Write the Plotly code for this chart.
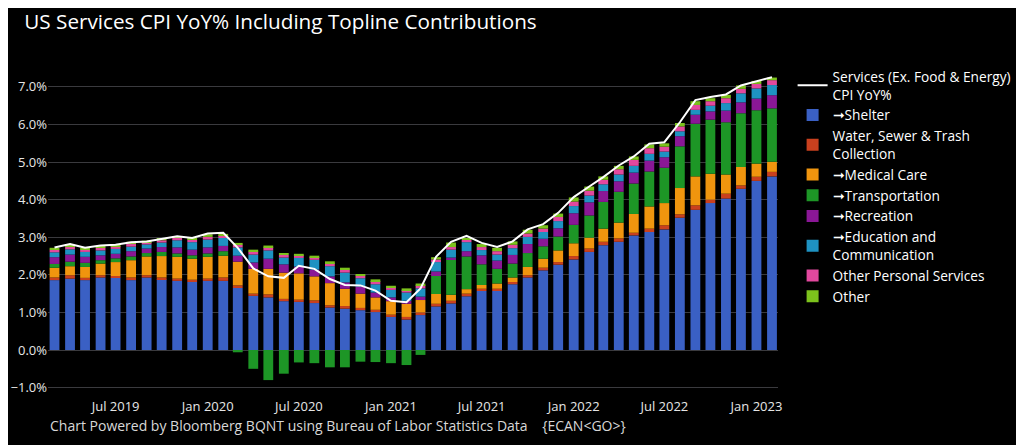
import pandas as pd
import plotly.graph_objects as go

dates = pd.date_range("2019-03-01", periods=48, freq="MS")

shelter = [1.86, 1.90, 1.86, 1.93, 1.92, 1.86, 1.93, 1.88, 1.84, 1.81, 1.84, 1.84,
           1.65, 1.44, 1.40, 1.30, 1.28, 1.25, 1.13, 1.10, 1.06, 1.01, 0.88, 0.81,
           0.93, 1.16, 1.24, 1.43, 1.57, 1.57, 1.75, 1.93, 2.12, 2.27, 2.41, 2.61,
           2.79, 2.88, 3.05, 3.14, 3.21, 3.52, 3.73, 3.91, 4.03, 4.29, 4.50, 4.62]
water = [0.07, 0.09, 0.06, 0.06, 0.05, 0.07, 0.06, 0.05, 0.06, 0.06, 0.06, 0.09,
         0.07, 0.06, 0.08, 0.06, 0.06, 0.07, 0.06, 0.07, 0.06, 0.06, 0.06, 0.07,
         0.07, 0.07, 0.07, 0.07, 0.06, 0.06, 0.06, 0.06, 0.07, 0.07, 0.09, 0.09,
         0.09, 0.09, 0.07, 0.09, 0.11, 0.09, 0.12, 0.09, 0.13, 0.09, 0.11, 0.12]
medical = [0.26, 0.24, 0.29, 0.31, 0.37, 0.46, 0.50, 0.57, 0.58, 0.56, 0.58, 0.58,
           0.63, 0.66, 0.68, 0.70, 0.70, 0.64, 0.59, 0.46, 0.38, 0.33, 0.36, 0.35,
           0.33, 0.26, 0.16, 0.12, 0.10, 0.14, 0.12, 0.22, 0.24, 0.31, 0.34, 0.29,
           0.35, 0.42, 0.50, 0.59, 0.59, 0.70, 0.77, 0.69, 0.51, 0.49, 0.35, 0.27]
transport = [0.10, 0.12, 0.11, 0.09, 0.10, 0.10, 0.09, 0.11, 0.09, 0.09, 0.09, 0.12,
             -0.06, -0.50, -0.80, -0.63, -0.33, -0.35, -0.46, -0.46, -0.31, -0.32, -0.35, -0.40,
             -0.13, 0.48, 0.94, 0.87, 0.55, 0.39, 0.37, 0.37, 0.33, 0.37, 0.49, 0.59,
             0.71, 0.82, 0.81, 0.93, 0.94, 1.11, 1.40, 1.44, 1.39, 1.43, 1.42, 1.42]
recreation = [0.18, 0.19, 0.16, 0.13, 0.12, 0.14, 0.12, 0.13, 0.16, 0.15, 0.16, 0.14,
              0.16, 0.17, 0.27, 0.22, 0.18, 0.18, 0.18, 0.17, 0.19, 0.13, 0.10, 0.08,
              0.09, 0.12, 0.05, 0.14, 0.24, 0.22, 0.23, 0.24, 0.20, 0.22, 0.31, 0.35,
              0.29, 0.28, 0.29, 0.29, 0.28, 0.27, 0.24, 0.22, 0.31, 0.29, 0.31, 0.35]
education = [0.13, 0.14, 0.13, 0.13, 0.13, 0.12, 0.11, 0.12, 0.19, 0.20, 0.21, 0.21,
             0.22, 0.21, 0.22, 0.18, 0.23, 0.26, 0.27, 0.26, 0.22, 0.22, 0.20, 0.22,
             0.22, 0.25, 0.21, 0.24, 0.14, 0.16, 0.18, 0.19, 0.18, 0.19, 0.19, 0.18,
             0.18, 0.18, 0.18, 0.18, 0.15, 0.13, 0.13, 0.15, 0.20, 0.24, 0.27, 0.27]
other_personal = [0.07, 0.07, 0.06, 0.07, 0.07, 0.07, 0.06, 0.06, 0.07, 0.07, 0.07, 0.07,
                  0.07, 0.08, 0.08, 0.07, 0.07, 0.07, 0.08, 0.08, 0.07, 0.08, 0.07, 0.06,
                  0.08, 0.07, 0.07, 0.06, 0.08, 0.09, 0.09, 0.09, 0.09, 0.11, 0.12, 0.13,
                  0.12, 0.14, 0.16, 0.15, 0.13, 0.13, 0.13, 0.12, 0.13, 0.12, 0.12, 0.13]
other = [0.05, 0.04, 0.05, 0.05, 0.04, 0.06, 0.04, 0.06, 0.04, 0.04, 0.07, 0.04,
         0.05, 0.05, 0.05, 0.04, 0.04, 0.04, 0.05, 0.05, 0.04, 0.05, 0.04, 0.05,
         0.05, 0.06, 0.12, 0.05, 0.08, 0.09, 0.09, 0.10, 0.09, 0.09, 0.11, 0.11,
         0.09, 0.09, 0.09, 0.10, 0.09, 0.09, 0.10, 0.08, 0.09, 0.09, 0.08, 0.07]
services_yoy = [2.73, 2.82, 2.72, 2.78, 2.80, 2.87, 2.89, 2.96, 3.03, 2.98, 3.10, 3.12,
                2.72, 2.17, 1.96, 1.92, 2.24, 2.16, 1.89, 1.73, 1.72, 1.58, 1.31, 1.27,
                1.64, 2.48, 2.88, 3.04, 2.85, 2.74, 2.89, 3.21, 3.35, 3.65, 4.07, 4.35,
                4.60, 4.91, 5.15, 5.49, 5.53, 6.06, 6.65, 6.73, 6.80, 7.04, 7.15, 7.26]

components = [
    ("\u279eShelter", shelter, "#3a60c4"),
    ("Water, Sewer & Trash<br>Collection", water, "#c9401e"),
    ("\u279eMedical Care", medical, "#f0950e"),
    ("\u279eTransportation", transport, "#1d9626"),
    ("\u279eRecreation", recreation, "#8a1796"),
    ("\u279eEducation and<br>Communication", education, "#1e92c2"),
    ("Other Personal Services", other_personal, "#e2489e"),
    ("Other", other, "#7cc21c"),
]

fig = go.Figure()
fig.add_trace(go.Scatter(x=dates, y=services_yoy, mode="lines",
                         name="Services (Ex. Food & Energy)<br>CPI YoY%",
                         line=dict(color="white", width=2)))
for name, vals, color in components:
    fig.add_trace(go.Bar(x=dates, y=vals, name=name, marker=dict(color=color, line=dict(width=0))))

fig.update_layout(
    width=1016, height=437,
    barmode="relative", bargap=0.3,
    paper_bgcolor="black", plot_bgcolor="black",
    font=dict(family="Open Sans", color="#e6e6e6", size=13),
    margin=dict(l=40, r=246, t=53, b=48, autoexpand=False),
    title=dict(text="US Services CPI YoY% Including Topline Contributions",
               x=0.016, xanchor="left", y=0.968, yanchor="middle",
               font=dict(size=20.7, color="white", family="Open Sans")),
    legend=dict(x=1.02, y=1.0, xanchor="left", yanchor="top", traceorder="normal",
                font=dict(size=13.7, color="white"), bgcolor="rgba(0,0,0,0)",
                tracegroupgap=0),
    showlegend=True,
)
fig.update_xaxes(
    type="date", range=["2019-02-16", "2023-02-13"],
    dtick="M6", tick0="2019-07-01", tickformat="%b %Y",
    showgrid=False, zeroline=False, showline=False, ticks="", automargin=False,
    tickfont=dict(size=13, color="#e6e6e6"),
)
fig.update_yaxes(
    range=[-1.25, 7.69], dtick=1, tick0=0, tickformat=".1f", ticksuffix="%",
    showgrid=True, gridcolor="#3a3a3e", gridwidth=1, automargin=False,
    zeroline=True, zerolinecolor="#3a3a3e", zerolinewidth=1,
    tickfont=dict(size=13, color="#e6e6e6"),
)
fig.add_annotation(
    text="Chart Powered by Bloomberg BQNT using Bureau of Labor Statistics Data&nbsp;&nbsp;&nbsp;&nbsp;{ECAN&lt;GO&gt;}",
    xref="paper", yref="paper", x=0.0, y=-0.085, xanchor="left", yanchor="middle",
    showarrow=False, font=dict(size=14, color="#d8d8d8", family="Open Sans"),
)

fig.write_html("out.html")
